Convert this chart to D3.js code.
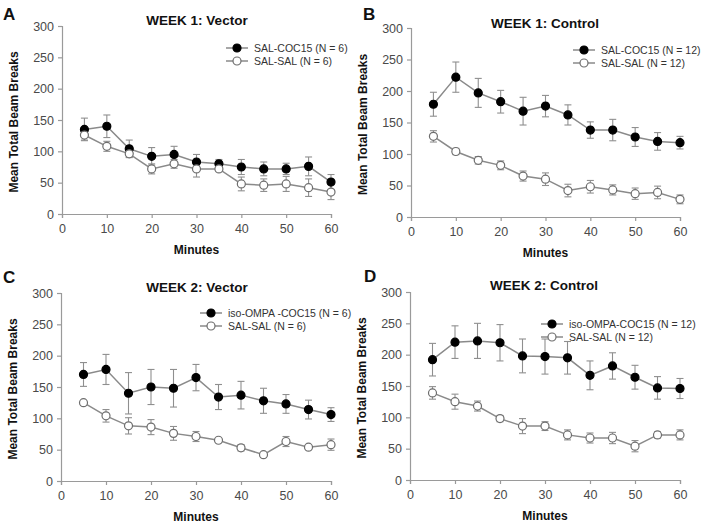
<!DOCTYPE html>
<html><head><meta charset="utf-8">
<script src="https://cdn.jsdelivr.net/npm/d3@7"></script>
<style>
body{margin:0;background:#fff;}
svg{display:block;font-family:"Liberation Sans",Arial,sans-serif;}
</style></head>
<body><svg id="c" width="704" height="525"></svg>
<script>
// ---- data ----
const minutes = [5,10,15,20,25,30,35,40,45,50,55,60];
const xTicks = [0,10,20,30,40,50,60];
const yTicks = [0,50,100,150,200,250,300];
const panelLetters = ["A","B","C","D"];
const panelTitles = ["WEEK 1: Vector","WEEK 1: Control","WEEK 2: Vector","WEEK 2: Control"];
const drugLabels = ["SAL-COC15 (N = 6)","SAL-COC15 (N = 12)","iso-OMPA -COC15 (N = 6)","iso-OMPA-COC15 (N = 12)"];
const salLabels = ["SAL-SAL (N = 6)","SAL-SAL (N = 12)","SAL-SAL (N = 6)","SAL-SAL (N = 12)"];
const xLabel = "Minutes";
const yLabel = "Mean Total Beam Breaks";

const aDrugMean = [135,140,104,92,95,83,80,75,72,72,76,51];
const aDrugErr  = [18,18,14,14,13,12,7,12,11,9,15,12];
const aSalMean  = [126,108,96,72,80,72,72,48,46,48,42,35];
const aSalErr   = [8,8,5,8,7,13,3,11,10,12,14,12];

const bDrugMean = [179,222,197,183,168,176,162,138,138,127,120,118];
const bDrugErr  = [19,24,23,18,22,17,16,13,17,15,14,10];
const bSalMean  = [128,104,90,82,65,60,42,48,43,37,39,28];
const bSalErr   = [9,5,6,7,8,10,10,10,8,9,10,7];

const cDrugMean = [170,178,140,150,148,165,134,137,128,123,114,106];
const cDrugErr  = [19,24,33,28,30,21,20,22,20,15,15,11];
const cSalMean  = [125,104,88,86,76,71,65,53,42,63,54,58];
const cSalErr   = [3,10,13,12,11,8,3,5,3,8,3,9];

const dDrugMean = [192,220,222,219,198,197,195,167,182,164,147,146];
const dDrugErr  = [26,26,28,29,27,28,26,23,21,19,18,16];
const dSalMean  = [139,125,118,98,86,86,72,67,67,54,72,72];
const dSalErr   = [10,12,8,5,12,7,8,8,9,9,5,8];

const drugMeans = [aDrugMean,bDrugMean,cDrugMean,dDrugMean];
const drugErrs  = [aDrugErr,bDrugErr,cDrugErr,dDrugErr];
const salMeans  = [aSalMean,bSalMean,cSalMean,dSalMean];
const salErrs   = [aSalErr,bSalErr,cSalErr,dSalErr];

// ---- layout ----
const layout = [
  {x0:62,  x1:331, y0:214, y1:26,  legX:237, legY:48},
  {x0:411, x1:680, y0:217, y1:28,  legX:584, legY:50},
  {x0:61,  x1:331, y0:481, y1:293, legX:211, legY:313},
  {x0:410, x1:680, y0:480, y1:292, legX:552, legY:324}
];
const letterPos = [[3,20],[363,20],[3,283],[364,282]];
const titlePos = [[197,25],[545,28],[197,292],[544,290]];

const svg = d3.select("#c");
const lineCol = "#8a8a8a", axisCol = "#9a9a9a", tickTextCol = "#4a4a4a";

layout.forEach((L,i)=>{
  const g = svg.append("g");
  const x = d3.scaleLinear().domain([0,60]).range([L.x0,L.x1]);
  const y = d3.scaleLinear().domain([0,300]).range([L.y0,L.y1]);

  const xa = g.append("g").attr("transform",`translate(0,${L.y0})`)
    .call(d3.axisBottom(x).tickValues(xTicks).tickSize(4).tickPadding(6).tickFormat(d3.format("d")));
  const ya = g.append("g").attr("transform",`translate(${L.x0},0)`)
    .call(d3.axisLeft(y).tickValues(yTicks).tickSize(4).tickPadding(4).tickFormat(d3.format("d")));
  [xa,ya].forEach(a=>{
    a.select(".domain").attr("stroke",axisCol).attr("stroke-width",1.2);
    a.selectAll(".tick line").attr("stroke",axisCol).attr("stroke-width",1.2);
    a.selectAll(".tick text").attr("fill",tickTextCol).style("font-size","12.5px")
      .style("font-family","'Liberation Sans',Arial,sans-serif");
  });

  const series = [
    {mean:drugMeans[i], err:drugErrs[i], fill:"#000", stroke:"#000"},
    {mean:salMeans[i],  err:salErrs[i],  fill:"#fff", stroke:"#6e6e6e"}
  ];
  const line = d3.line().x((d,k)=>x(minutes[k])).y(d=>y(d));
  series.forEach(s=>{
    g.append("path").attr("d",line(s.mean)).attr("fill","none")
      .attr("stroke",lineCol).attr("stroke-width",1.5);
  });
  series.forEach(s=>{
    const eb = g.append("g").attr("stroke","#8f8f8f").attr("stroke-width",1.1);
    s.mean.forEach((m,k)=>{
      const cx = x(minutes[k]);
      const top = y(m+s.err[k]), bot = y(m-s.err[k]);
      eb.append("line").attr("x1",cx).attr("x2",cx).attr("y1",top).attr("y2",bot);
      eb.append("line").attr("x1",cx-3.5).attr("x2",cx+3.5).attr("y1",top).attr("y2",top);
      eb.append("line").attr("x1",cx-3.5).attr("x2",cx+3.5).attr("y1",bot).attr("y2",bot);
    });
  });
  series.forEach(s=>{
    g.selectAll(null).data(s.mean).enter().append("circle")
      .attr("cx",(d,k)=>x(minutes[k])).attr("cy",d=>y(d)).attr("r",4)
      .attr("fill",s.fill).attr("stroke",s.stroke).attr("stroke-width",1.2);
  });

  const labels = [drugLabels[i], salLabels[i]];
  series.forEach((s,k)=>{
    const ly = L.legY + k*13;
    g.append("line").attr("x1",L.legX-11).attr("x2",L.legX+11).attr("y1",ly).attr("y2",ly)
      .attr("stroke",lineCol).attr("stroke-width",1.5);
    g.append("circle").attr("cx",L.legX).attr("cy",ly).attr("r",4)
      .attr("fill",s.fill).attr("stroke",s.stroke).attr("stroke-width",1.2);
    g.append("text").attr("x",L.legX+17).attr("y",ly+3.8).text(labels[k])
      .attr("fill","#333").style("font-size","10.5px");
  });

  g.append("text").attr("x",titlePos[i][0]).attr("y",titlePos[i][1]).attr("text-anchor","middle")
    .style("font-weight","bold").style("font-size","13.5px").attr("fill","#111").text(panelTitles[i]);
  g.append("text").attr("x",letterPos[i][0]).attr("y",letterPos[i][1])
    .style("font-weight","bold").style("font-size","17px").attr("fill","#111").text(panelLetters[i]);
  g.append("text").attr("x",(L.x0+L.x1)/2).attr("y",L.y0+40).attr("text-anchor","middle")
    .style("font-weight","bold").style("font-size","12px").attr("fill","#111").text(xLabel);
  const ymid = (L.y0+L.y1)/2 + 2;
  g.append("text").attr("transform",`translate(${L.x0-44},${ymid}) rotate(-90)`)
    .attr("text-anchor","middle").style("font-weight","bold").style("font-size","12px")
    .attr("fill","#111").text(yLabel);
});
</script></body></html>
